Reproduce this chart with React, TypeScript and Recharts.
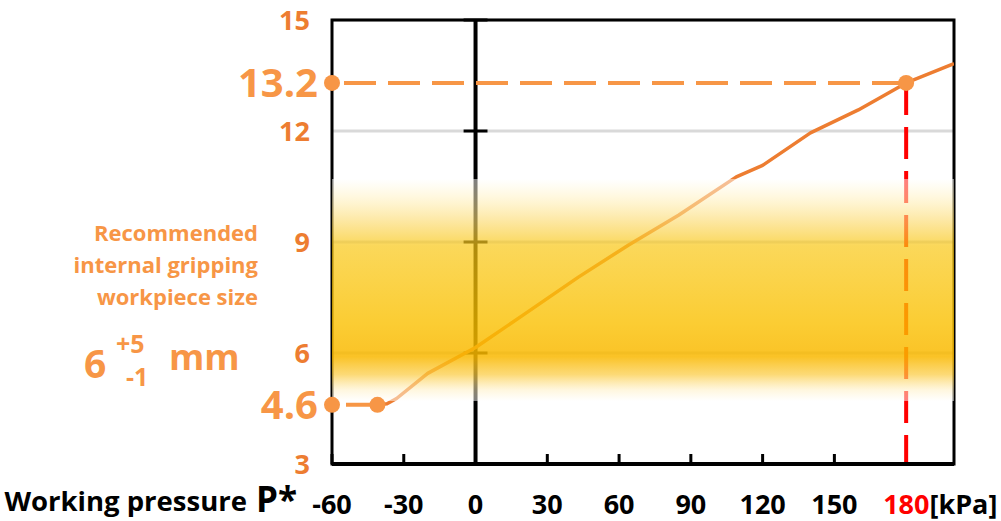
import React from "react";
import {
  LineChart,
  Line,
  XAxis,
  YAxis,
  CartesianGrid,
  ReferenceArea,
  ReferenceLine,
  ReferenceDot,
} from "recharts";

// ---------- data ----------
const pressureKPa = [-41, -37, -33, -20, 0, 20, 43, 64, 85, 109, 120, 140, 160, 180, 200];
const gripSizeMm = [4.6, 4.63, 4.77, 5.45, 6.15, 7.03, 8.05, 8.92, 9.73, 10.76, 11.07, 11.95, 12.57, 13.3, 13.82];

const xTicks = [-60, -30, 0, 30, 60, 90, 120, 150, 180];
const yTicks = [3, 6, 9, 12, 15];
const xDomain = [-60, 200];
const yDomain = [3, 15];

const workingPressure = 180;
const workingSize = 13.3;
const workingSizeLabel = "13.2";
const minPressure = -41;
const minSize = 4.6;
const minSizeLabel = "4.6";
const bandRange = [4.7, 10.7];
const unitLabel = "[kPa]";
const axisTitle = "Working pressure";
const axisSymbol = "P*";
const noteLines = ["Recommended", "internal gripping", "workpiece size"];
const sizeNominal = "6";
const sizeUpper = "+5";
const sizeLower = "-1";
const sizeUnit = "mm";

const data = pressureKPa.map((x, i) => ({ x, y: gripSizeMm[i] }));

// ---------- styles ----------
const FONT = "'Open Sans', sans-serif";
const ORANGE = "#ED7D31";
const LIGHT_ORANGE = "#F79646";
const X_TICK_MARGIN = 31;

const XTick = (props: any) => {
  const { x, y, payload } = props;
  const v = payload.value;
  const axisY = y - X_TICK_MARGIN;
  return (
    <g>
      {v !== 0 && v !== workingPressure && (
        <line x1={x} x2={x} y1={axisY} y2={axisY - 10} stroke="#000" strokeWidth={3} />
      )}
      {v === workingPressure ? (
        <text x={x - 23} y={y} dy="0.71em" textAnchor="start" fontFamily={FONT} fontWeight={700} fontSize={27}>
          <tspan fill="#FF0000">{v}</tspan>
          <tspan fill="#000">{unitLabel}</tspan>
        </text>
      ) : (
        <text x={x} y={y} dy="0.71em" textAnchor="middle" fontFamily={FONT} fontWeight={700} fontSize={27} fill="#000">
          {v}
        </text>
      )}
    </g>
  );
};

const YTick = (props: any) => {
  const { x, y, payload } = props;
  return (
    <text x={x} y={y} dy="0.36em" textAnchor="end" fontFamily={FONT} fontWeight={700} fontSize={27} fill={ORANGE}>
      {payload.value}
    </text>
  );
};

const dotWithLabel = (label: string, showLabel: boolean) => (p: any) => (
  <g>
    <circle cx={p.cx} cy={p.cy} r={8} fill={LIGHT_ORANGE} />
    {showLabel && (
      <text
        x={p.cx - 14}
        y={p.cy}
        dy="0.36em"
        textAnchor="end"
        fontFamily={FONT}
        fontWeight={700}
        fontSize={40}
        fill={LIGHT_ORANGE}
      >
        {label}
      </text>
    )}
  </g>
);

export default function App() {
  return (
    <div style={{ position: "absolute", left: 0, top: 0, width: 1001, height: 521, background: "#fff" }}>
      <svg width={0} height={0} style={{ position: "absolute" }}>
        <defs>
          <linearGradient id="bandGrad" x1="0" y1="0" x2="0" y2="1">
            <stop offset="0%" stopColor="#FFFFFF" stopOpacity={0.5} />
            <stop offset="8%" stopColor="#FFF2C4" stopOpacity={0.55} />
            <stop offset="20%" stopColor="#FBD866" stopOpacity={0.65} />
            <stop offset="30%" stopColor="#F9C713" stopOpacity={0.7} />
            <stop offset="65%" stopColor="#FAC000" stopOpacity={0.8} />
            <stop offset="80%" stopColor="#F9B800" stopOpacity={0.85} />
            <stop offset="88%" stopColor="#FBCB40" stopOpacity={0.72} />
            <stop offset="95%" stopColor="#FFF0C4" stopOpacity={0.55} />
            <stop offset="100%" stopColor="#FFFFFF" stopOpacity={0.5} />
          </linearGradient>
        </defs>
      </svg>
      <LineChart
        width={1001}
        height={521}
        data={data}
        margin={{ top: 20, right: 47, bottom: 0, left: 0 }}
      >
        <CartesianGrid vertical={false} stroke="#D9D9D9" strokeWidth={3} zIndex={-100} />
        <XAxis
          type="number"
          dataKey="x"
          domain={xDomain}
          ticks={xTicks}
          interval={0}
          allowDataOverflow
          height={57}
          tickSize={0}
          tickMargin={X_TICK_MARGIN}
          tickLine={false}
          axisLine={{ stroke: "#000", strokeWidth: 4 }}
          tick={<XTick />}
        />
        <YAxis
          type="number"
          domain={yDomain}
          ticks={yTicks}
          interval={0}
          allowDataOverflow
          width={332}
          tickSize={0}
          tickMargin={22}
          tickLine={false}
          axisLine={false}
          tick={<YTick />}
        />
        <ReferenceArea
          x1={xDomain[0]}
          x2={xDomain[1]}
          y1={yDomain[0]}
          y2={yDomain[1]}
          fill="none"
          fillOpacity={0}
          stroke="#000"
          strokeWidth={3}
          zIndex={10}
        />
        <ReferenceLine x={0} stroke="#000" strokeWidth={4} zIndex={20} />
        {yTicks.slice(1).map((t) => (
          <ReferenceLine
            key={"ct" + t}
            segment={[
              { x: -5, y: t },
              { x: 5, y: t },
            ]}
            stroke="#000"
            strokeWidth={3}
            zIndex={20}
          />
        ))}
        <ReferenceLine
          segment={[
            { x: workingPressure, y: workingSize },
            { x: workingPressure, y: yDomain[0] },
          ]}
          stroke="#FF0000"
          strokeWidth={4}
          strokeDasharray="32 12"
          zIndex={30}
        />
        <ReferenceLine
          segment={[
            { x: xDomain[0], y: workingSize },
            { x: workingPressure, y: workingSize },
          ]}
          stroke={LIGHT_ORANGE}
          strokeWidth={4}
          strokeDasharray="0 12 32 0"
          zIndex={30}
        />
        <ReferenceLine
          segment={[
            { x: xDomain[0], y: minSize },
            { x: minPressure, y: minSize },
          ]}
          stroke={LIGHT_ORANGE}
          strokeWidth={4}
          strokeDasharray="0 14 40 10"
          zIndex={30}
        />
        <Line
          type="linear"
          dataKey="y"
          stroke={ORANGE}
          strokeWidth={3.5}
          strokeLinejoin="round"
          dot={false}
          activeDot={false}
          isAnimationActive={false}
          zIndex={40}
        />
        <ReferenceArea
          x1={xDomain[0]}
          x2={xDomain[1]}
          y1={bandRange[0]}
          y2={bandRange[1]}
          fill="url(#bandGrad)"
          fillOpacity={1}
          stroke="none"
          zIndex={450}
        />
        <ReferenceDot x={xDomain[0]} y={workingSize} r={8} shape={dotWithLabel(workingSizeLabel, true)} zIndex={600} />
        <ReferenceDot x={workingPressure} y={workingSize} r={8} shape={dotWithLabel("", false)} zIndex={600} />
        <ReferenceDot x={xDomain[0]} y={minSize} r={8} shape={dotWithLabel(minSizeLabel, true)} zIndex={600} />
        <ReferenceDot x={minPressure} y={minSize} r={8} shape={dotWithLabel("", false)} zIndex={600} />
      </LineChart>
      <svg
        width={1001}
        height={521}
        style={{ position: "absolute", left: 0, top: 0, pointerEvents: "none" }}
      >
        <g fontFamily={FONT} fontWeight={700} fill={LIGHT_ORANGE}>
          {noteLines.map((t, i) => (
            <text key={t} x={258} y={241 + i * 32} textAnchor="end" fontSize={22}>
              {t}
            </text>
          ))}
          <text x={84} y={378} fontSize={39}>{sizeNominal}</text>
          <text x={116} y={353} fontSize={25}>{sizeUpper}</text>
          <text x={126} y={386} fontSize={25}>{sizeLower}</text>
          <text x={169} y={370} fontSize={36}>{sizeUnit}</text>
        </g>
        <g fontFamily={FONT} fontWeight={700} fill="#000">
          <text x={247} y={511} textAnchor="end" fontSize={27.5}>{axisTitle}</text>
          <text x={256} y={512} fontSize={35}>{axisSymbol}</text>
        </g>
      </svg>
    </div>
  );
}
